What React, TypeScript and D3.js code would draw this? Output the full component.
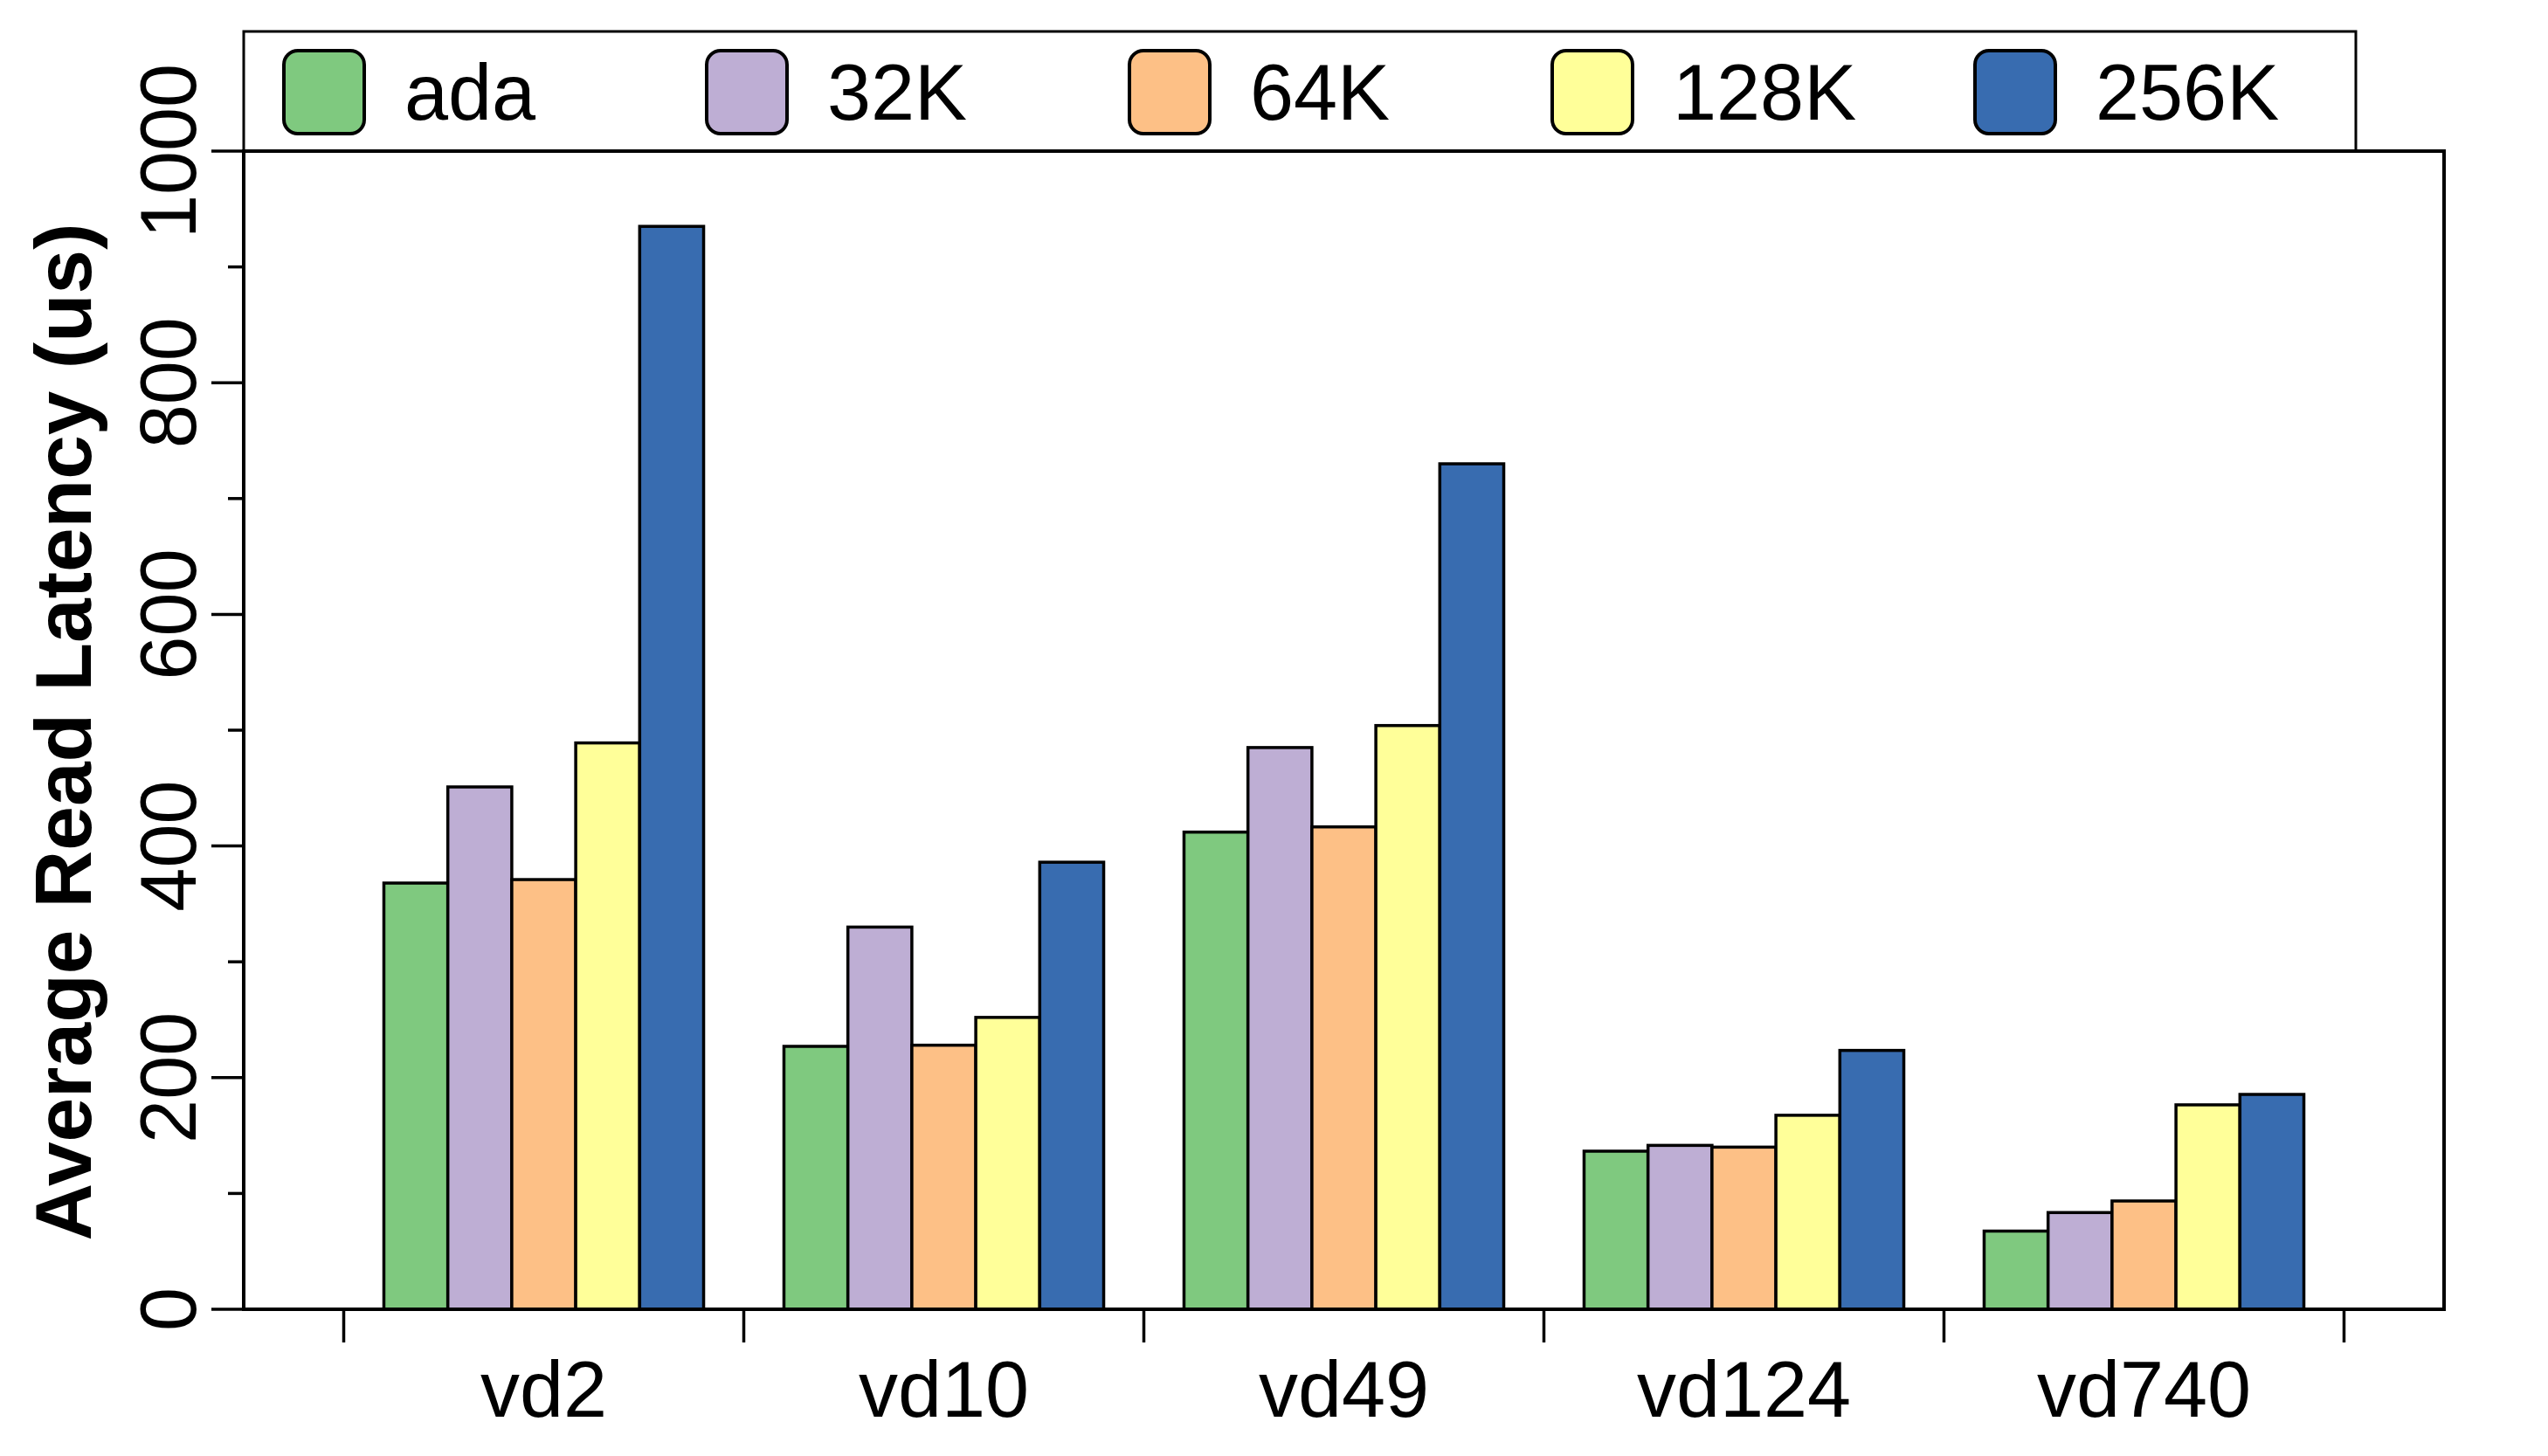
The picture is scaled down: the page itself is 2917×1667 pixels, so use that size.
import React from "react";
import * as d3 from "d3";

const categories = ["vd2", "vd10", "vd49", "vd124", "vd740"];
const seriesNames = ["ada", "32K", "64K", "128K", "256K"];
const seriesColors = ["#7fc97f", "#beaed4", "#fdc086", "#ffff99", "#386cb0"];
const adaValues = [368, 227, 412, 136.5, 67.5];
const k32Values = [451, 330, 485, 141.5, 83.5];
const k64Values = [371, 228, 416.5, 140, 93.5];
const k128Values = [489, 252, 504, 167.5, 176.5];
const k256Values = [935, 386, 730, 223.5, 185.5];
const seriesValues = [adaValues, k32Values, k64Values, k128Values, k256Values];
const majorTicks = [0, 200, 400, 600, 800, 1000];
const minorTicks = [100, 300, 500, 700, 900];
const yTitle = "Average Read Latency (us)";

const W = 2917;
const H = 1667;
const left = 279;
const right = 2798;
const top = 173;
const bottom = 1499;
const FONT = "'Liberation Sans', Arial, Helvetica, sans-serif";

export default function App() {
  const x = d3.scaleBand<string>().domain(categories).range([left, right]).paddingInner(0).paddingOuter(0.25);
  const xs = d3.scaleBand<string>().domain(seriesNames).range([0, x.bandwidth()]).paddingInner(0).paddingOuter(0.628);
  const y = d3.scaleLinear().domain([0, 1000]).range([bottom, top]);
  const boundaries = [...categories.map((c) => x(c) as number), (x(categories[categories.length - 1]) as number) + x.bandwidth()];

  const legendLeft = 279;
  const legendRight = 2697;
  const legendTop = 36;
  const swX0 = 325;
  const swStep = 484;

  return (
    <svg width={W} height={H} style={{ position: "absolute", left: 0, top: 0, background: "#fff" }}>
      <rect x={0} y={0} width={W} height={H} fill="#fff" />
      {/* legend */}
      <rect x={legendLeft} y={legendTop} width={legendRight - legendLeft} height={top - legendTop} fill="#fff" stroke="#000" strokeWidth={3} />
      {seriesNames.map((s, i) => (
        <g key={s}>
          <rect x={swX0 + i * swStep} y={58} width={92} height={95} rx={16} ry={16} fill={seriesColors[i]} stroke="#000" strokeWidth={4} />
          <text x={swX0 + i * swStep + 138} y={137} fontFamily={FONT} fontSize={90} fill="#000">{s}</text>
        </g>
      ))}
      {/* bars */}
      {categories.map((c, ci) => (
        <g key={c}>
          {seriesNames.map((s, si) => {
            const v = seriesValues[si][ci];
            const bx = (x(c) as number) + (xs(s) as number);
            return (
              <rect key={s} x={bx} y={y(v)} width={xs.bandwidth()} height={y(0) - y(v)} fill={seriesColors[si]} stroke="#000" strokeWidth={3.5} />
            );
          })}
        </g>
      ))}
      {/* frame */}
      <rect x={left} y={top} width={right - left} height={bottom - top} fill="none" stroke="#000" strokeWidth={4} />
      {/* y ticks */}
      {majorTicks.map((t) => (
        <g key={t}>
          <line x1={left - 37} x2={left} y1={y(t)} y2={y(t)} stroke="#000" strokeWidth={3.5} />
          <text transform={`translate(224,${y(t)}) rotate(-90)`} textAnchor="middle" fontFamily={FONT} fontSize={90} fill="#000">{t}</text>
        </g>
      ))}
      {minorTicks.map((t) => (
        <line key={t} x1={left - 18} x2={left} y1={y(t)} y2={y(t)} stroke="#000" strokeWidth={3.5} />
      ))}
      {/* x ticks */}
      {boundaries.map((b, i) => (
        <line key={i} x1={b} x2={b} y1={bottom} y2={bottom + 38} stroke="#000" strokeWidth={3.5} />
      ))}
      {categories.map((c) => (
        <text key={c} x={(x(c) as number) + x.bandwidth() / 2} y={1622} textAnchor="middle" fontFamily={FONT} fontSize={90} fill="#000">{c}</text>
      ))}
      <text transform={`translate(104,${(top + bottom) / 2 + 2}) rotate(-90)`} textAnchor="middle" fontFamily={FONT} fontWeight="bold" fontSize={91} fill="#000">{yTitle}</text>
    </svg>
  );
}
